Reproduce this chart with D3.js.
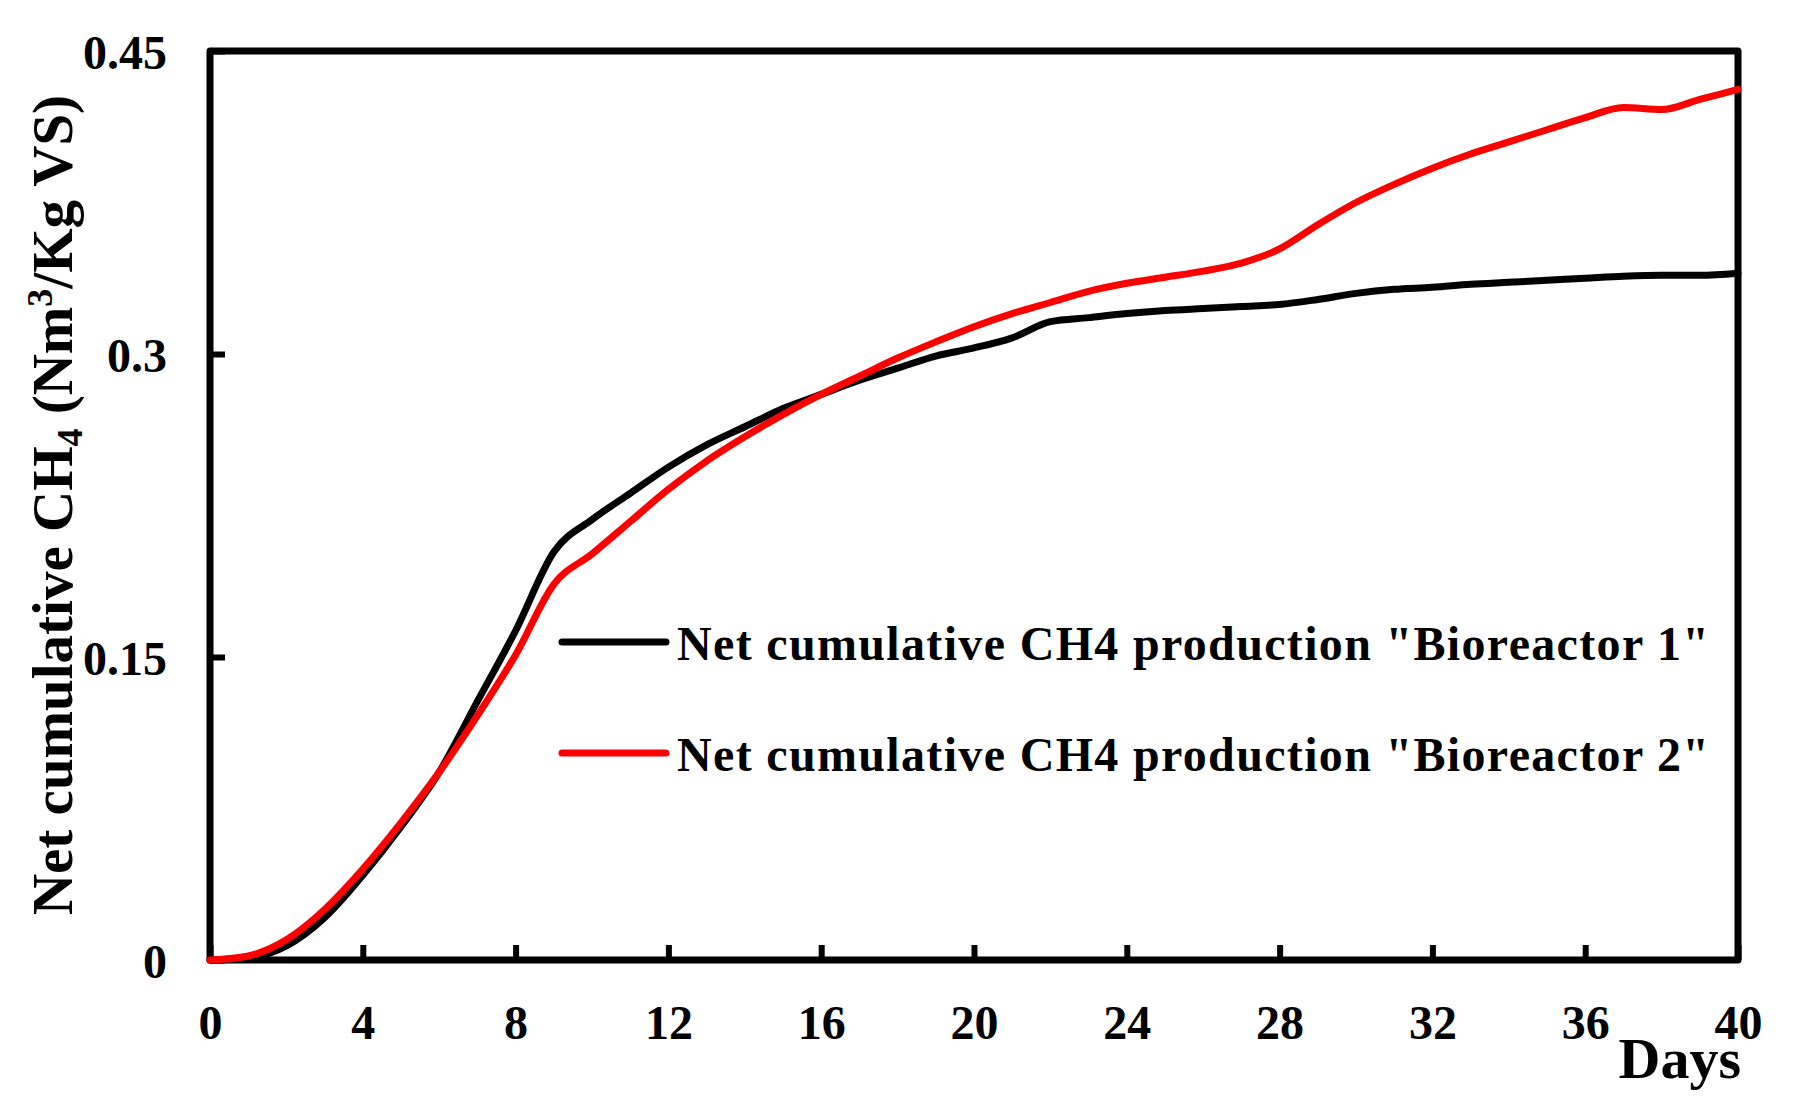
<!DOCTYPE html>
<html><head><meta charset="utf-8">
<script src="https://cdn.jsdelivr.net/npm/d3@7"></script>
<style>
html,body{margin:0;padding:0;background:#fff;}
svg{display:block;background:#fff;}
text{font-family:"Liberation Serif","Times New Roman",serif;font-weight:bold;fill:#000;}
</style></head><body>
<svg id="chart" width="1798" height="1114"></svg>
<script>
const days = [0,1,2,3,4,5,6,7,8,9,10,11,12,13,14,15,16,17,18,19,20,21,22,23,24,25,26,27,28,29,30,31,32,33,34,35,36,37,38,39,40];
const bioreactor1 = [0,0.001,0.007,0.021,0.042,0.066,0.093,0.128,0.163,0.202,0.218,0.231,0.244,0.255,0.264,0.273,0.280,0.287,0.293,0.299,0.303,0.308,0.316,0.318,0.320,0.3215,0.3225,0.3235,0.3245,0.327,0.330,0.332,0.333,0.3345,0.3355,0.3365,0.3375,0.3385,0.339,0.339,0.340];
const bioreactor2 = [0,0.002,0.010,0.025,0.045,0.068,0.093,0.121,0.151,0.186,0.201,0.217,0.233,0.247,0.259,0.270,0.280,0.289,0.298,0.306,0.3135,0.320,0.3255,0.331,0.335,0.338,0.341,0.345,0.352,0.364,0.375,0.384,0.392,0.399,0.405,0.411,0.417,0.422,0.421,0.426,0.431];
const seriesNames = ['Net cumulative CH4 production "Bioreactor 1"', 'Net cumulative CH4 production "Bioreactor 2"'];
const seriesColors = ["#000000", "#ff0000"];
const xTicks = [0,4,8,12,16,20,24,28,32,36,40];
const yTicks = [0,0.15,0.3,0.45];
const yTickLabels = ["0","0.15","0.3","0.45"];
const xTitle = "Days";

const svg = d3.select("#chart");
const x = d3.scaleLinear().domain([0,40]).range([210,1738]);
const y = d3.scaleLinear().domain([0,0.45]).range([960,51]);

// frame
svg.append("rect")
  .attr("x", x(0)).attr("y", y(0.45))
  .attr("width", x(40)-x(0)).attr("height", y(0)-y(0.45))
  .attr("fill","none").attr("stroke","#000").attr("stroke-width",7)
  .attr("stroke-linejoin","round");

// x axis
const gx = svg.append("g").attr("transform",`translate(0,${y(0)})`)
  .call(d3.axisBottom(x).tickValues(xTicks).tickSize(-15).tickFormat(d3.format("d")));
gx.select(".domain").remove();
gx.selectAll(".tick line").attr("stroke","#000").attr("stroke-width",6);
gx.selectAll(".tick text").attr("y",79).attr("dy",0)
  .style("font-family",'"Liberation Serif",serif').style("font-weight","bold").style("font-size","48px").attr("fill","#000");

// y axis
const gy = svg.append("g").attr("transform",`translate(${x(0)},0)`)
  .call(d3.axisLeft(y).tickValues(yTicks).tickSize(-15).tickPadding(43).tickFormat((d,i)=>yTickLabels[i]));
gy.select(".domain").remove();
gy.selectAll(".tick line").attr("stroke","#000").attr("stroke-width",6);
gy.selectAll(".tick text").attr("dy","0.36em")
  .style("font-family",'"Liberation Serif",serif').style("font-weight","bold").style("font-size","48px").attr("fill","#000");

// lines
const line = d3.line().x((d,i)=>x(days[i])).y(d=>y(d)).curve(d3.curveMonotoneX);
[bioreactor1, bioreactor2].forEach((s,k)=>{
  svg.append("path").datum(s).attr("d",line)
    .attr("fill","none").attr("stroke",seriesColors[k]).attr("stroke-width",7)
    .attr("stroke-linecap","round").attr("stroke-linejoin","round");
});

// legend
const legY = [642, 753];
seriesNames.forEach((n,k)=>{
  svg.append("line").attr("x1",562).attr("x2",666).attr("y1",legY[k]).attr("y2",legY[k])
    .attr("stroke",seriesColors[k]).attr("stroke-width",7).attr("stroke-linecap","round");
  svg.append("text").attr("x",677).attr("y",legY[k]+18)
    .attr("textLength",1032).attr("lengthAdjust","spacing")
    .style("font-size","48px").text(n);
});

// y title
const yt = svg.append("text").attr("transform","translate(72,505) rotate(-90)")
  .attr("text-anchor","middle").style("font-size","57px");
yt.append("tspan").text("Net cumulative CH");
yt.append("tspan").text("4").style("font-size","36px").attr("dy",10);
yt.append("tspan").text(" (Nm").attr("dy",-10);
yt.append("tspan").text("3").style("font-size","36px").attr("dy",-20);
yt.append("tspan").text("/Kg VS)").attr("dy",20);

// x title
svg.append("text").attr("x",1741).attr("y",1078).attr("text-anchor","end")
  .style("font-size","58px").text(xTitle);
</script>
</body></html>
